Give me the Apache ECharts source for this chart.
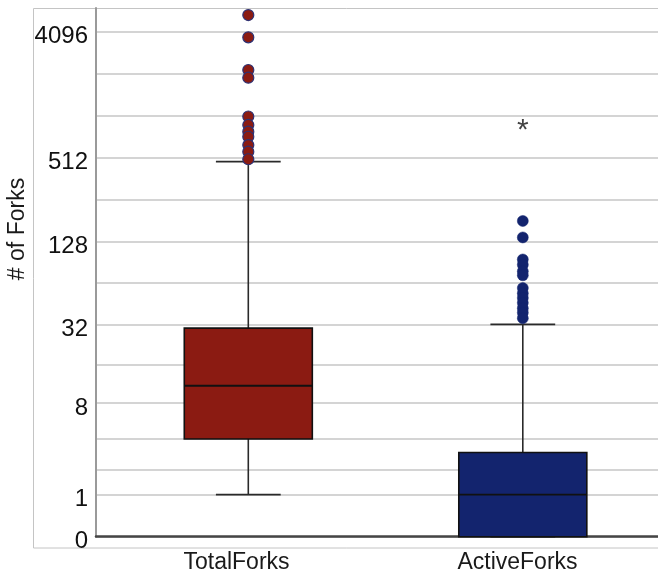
<!DOCTYPE html>
<html>
<head>
<meta charset="utf-8">
<script src="https://cdn.jsdelivr.net/npm/echarts@6/dist/echarts.min.js"></script>
<style>html,body{margin:0;padding:0;background:#fff;}#chart{width:658px;height:581px;}</style>
</head>
<body>
<div id="chart"></div>
<script>
// ---- data ----
const categories = ['TotalForks', 'ActiveForks'];
const whiskerLow = [1, 0];
const quartile1 = [4, 0];
const medians = [11, 1];
const quartile3 = [30, 3];
const whiskerHigh = [480, 32];
const outliersTotal = [5370, 3720, 2172, 1913, 1010, 878, 786, 723, 630, 565, 499];
const outliersActive = [180, 137, 95, 87, 78, 73, 59, 54, 50, 46, 42, 39, 35.5];
const extremesActive = [870];
const gridValues = [0, 1, 2, 4, 8, 16, 32, 64, 128, 256, 512, 1024, 2048, 4096];
const tickLabels = [0, 1, 8, 32, 128, 512, 4096];
const axisTopValue = 6030;
const yAxisTitle = '# of Forks';

// ---- style ----
const fillColors = ['#8B1B12', '#13246E'];
const FONT = "'Liberation Sans', Arial, Helvetica, sans-serif";
const BOX_HALF = 0.2332;
const CAP_HALF = 0.118;

// log2(v+1) transform of the axis
const T = v => Math.log2(v + 1);
const invT = t => Math.round(Math.pow(2, t) - 1);

const boxData = categories.map((c, i) => [i, T(whiskerLow[i]), T(quartile1[i]), T(medians[i]), T(quartile3[i]), T(whiskerHigh[i])]);

const chart = echarts.init(document.getElementById('chart'), null, {renderer: 'canvas'});
chart.setOption({
  animation: false,
  backgroundColor: '#fff',
  graphic: [{
    type: 'rect', z: -10, silent: true,
    shape: {x: 33.5, y: 8.5, width: 700, height: 539.5},
    style: {fill: 'none', stroke: '#c4c4c4', lineWidth: 1}
  }, {
    type: 'text', silent: true,
    x: 18, y: 229, rotation: Math.PI / 2,
    style: {text: yAxisTitle, font: "23px 'Liberation Sans', Arial, sans-serif", fill: '#1a1a1a', align: 'center', verticalAlign: 'middle'}
  }],
  grid: {left: 96, right: 0, top: 8, bottom: 44.3, containLabel: false, outerBoundsMode: 'none'},
  xAxis: [{
    type: 'category',
    data: categories,
    boundaryGap: true,
    axisLine: {show: true, onZero: false, lineStyle: {color: '#454545', width: 2.5}},
    axisTick: {show: false},
    axisLabel: {color: '#1a1a1a', fontSize: 23, fontFamily: FONT, margin: 14},
    splitLine: {show: false}
  }, {
    type: 'value',
    min: -0.5548, max: 1.4925,
    show: false
  }],
  yAxis: {
    type: 'value',
    min: 0,
    max: T(axisTopValue),
    axisLine: {show: true, onZero: false, lineStyle: {color: '#9a9a9a', width: 2}},
    axisTick: {show: false, customValues: gridValues.map(T)},
    axisLabel: {
      customValues: tickLabels.map(T),
      formatter: v => '{s| }\n{n|' + invT(v) + '}',
      margin: 8,
      rich: {
        s: {fontSize: 1, lineHeight: 10},
        n: {color: '#111', fontSize: 24, fontFamily: FONT, lineHeight: 24, align: 'right'}
      }
    },
    splitLine: {show: true, lineStyle: {color: '#c6c6c6', width: 1.6}}
  },
  series: [{
    type: 'custom',
    xAxisIndex: 1,
    yAxisIndex: 0,
    data: boxData,
    encode: {x: 0, y: [1, 2, 3, 4, 5]},
    renderItem: function (params, api) {
      const x = api.value(0);
      const lo = api.coord([x, api.value(1)]);
      const q1 = api.coord([x, api.value(2)]);
      const md = api.coord([x, api.value(3)]);
      const q3 = api.coord([x, api.value(4)]);
      const hi = api.coord([x, api.value(5)]);
      const hw = api.size([BOX_HALF, 0])[0];
      const cw = api.size([CAP_HALF, 0])[0];
      const cx = lo[0];
      const line = (x1, y1, x2, y2, c, w) => ({type: 'line', shape: {x1, y1, x2, y2}, style: {stroke: c, lineWidth: w}});
      return {
        type: 'group',
        children: [
          line(cx, hi[1], cx, q3[1], '#2a2a2a', 1.6),
          line(cx, q1[1], cx, lo[1], '#2a2a2a', 1.6),
          line(cx - cw, hi[1], cx + cw, hi[1], '#2a2a2a', 1.6),
          line(cx - cw, lo[1], cx + cw, lo[1], '#2a2a2a', 1.6),
          {type: 'rect', shape: {x: cx - hw, y: q3[1], width: 2 * hw, height: q1[1] - q3[1]},
           style: {fill: fillColors[params.dataIndex], stroke: '#111', lineWidth: 1.6}},
          line(cx - hw, md[1], cx + hw, md[1], '#111', 1.8)
        ]
      };
    }
  }, {
    type: 'scatter',
    xAxisIndex: 1,
    yAxisIndex: 0,
    symbol: 'circle',
    symbolSize: 11,
    itemStyle: {color: fillColors[0], borderColor: '#2d3275', borderWidth: 1.2, opacity: 1},
    data: outliersTotal.map(v => [0, T(v)]),
    z: 3
  }, {
    type: 'scatter',
    xAxisIndex: 1,
    yAxisIndex: 0,
    symbol: 'circle',
    symbolSize: 11,
    itemStyle: {color: fillColors[1], borderColor: '#13246E', borderWidth: 0.5, opacity: 1},
    data: outliersActive.map(v => [1, T(v)]),
    z: 3
  }, {
    type: 'scatter',
    xAxisIndex: 1,
    yAxisIndex: 0,
    symbol: 'circle',
    symbolSize: 2,
    itemStyle: {color: 'rgba(0,0,0,0)'},
    label: {show: true, position: 'inside', formatter: '*', fontSize: 30, fontFamily: FONT, color: '#111', offset: [0, 5]},
    data: extremesActive.map(v => [1, T(v)]),
    z: 4
  }]
});
</script>
</body>
</html>
